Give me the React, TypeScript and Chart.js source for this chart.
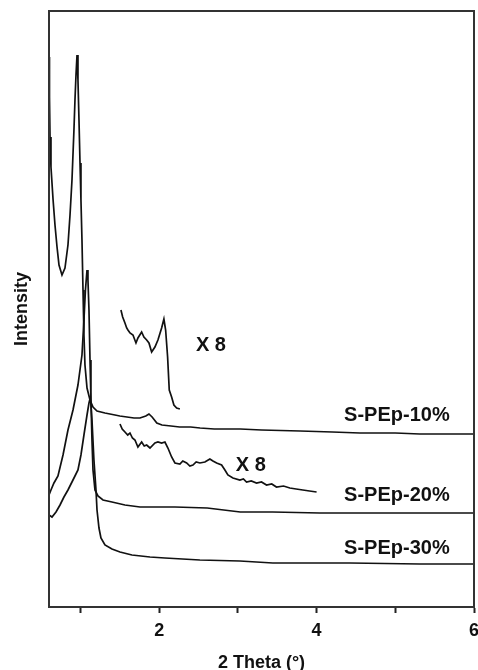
import React, { useEffect, useRef } from "react";
import { Chart, registerables } from "chart.js";

Chart.register(...registerables);

// 2 Theta (deg) and intensity (arbitrary units, offset traces)
const x10 = [0.6, 0.606, 0.613, 0.625, 0.651, 0.676, 0.702, 0.727, 0.765, 0.803, 0.841, 0.867, 0.892, 0.917, 0.93, 0.943, 0.956, 0.968, 0.981, 0.994, 1.006, 1.019, 1.032, 1.044, 1.057, 1.083, 1.121, 1.159, 1.21, 1.311, 1.438, 1.5, 1.59, 1.68, 1.756, 1.83, 1.87, 1.91, 1.97, 2.035, 2.15, 2.26, 2.4, 2.52, 2.7, 3.03, 3.3, 3.79, 4.2, 4.55, 5.0, 5.31, 5.7, 6.0];
const y10 = [550, 510, 470, 440, 408, 382, 360, 342, 332, 339, 362, 392, 427, 477, 507, 532, 552, 527, 487, 444, 407, 367, 317, 272, 242, 219, 207, 200, 196, 194, 192, 191, 190, 189, 189, 191, 193, 190, 184, 182, 181, 180, 180, 179, 178, 178, 177, 176, 175, 174, 174, 173, 173, 173];

const x20 = [0.6, 0.625, 0.663, 0.714, 0.778, 0.841, 0.905, 0.968, 1.019, 1.044, 1.063, 1.083, 1.095, 1.108, 1.121, 1.133, 1.146, 1.159, 1.184, 1.222, 1.286, 1.4, 1.565, 1.756, 2.01, 2.2, 2.61, 3.03, 3.44, 4.04, 5.06, 6.0];
const y20 = [112, 117, 124, 131, 152, 177, 197, 222, 252, 287, 317, 337, 327, 297, 247, 207, 167, 137, 117, 111, 107, 105, 102, 100, 100, 100, 99, 95, 95, 94, 94, 94];

const x30 = [0.6, 0.638, 0.689, 0.74, 0.79, 0.841, 0.892, 0.93, 0.968, 1.006, 1.044, 1.083, 1.108, 1.127, 1.146, 1.171, 1.197, 1.21, 1.235, 1.26, 1.311, 1.4, 1.502, 1.654, 1.883, 2.073, 2.517, 3.025, 3.444, 4.422, 5.311, 6.0];
const y30 = [92, 90, 95, 102, 110, 117, 125, 131, 137, 152, 172, 192, 204, 210, 187, 147, 117, 97, 79, 69, 62, 58, 55, 52, 50, 49, 47, 46, 44, 44, 43, 43];

// x8 magnified insets
const x10z = [1.514, 1.536, 1.565, 1.587, 1.603, 1.629, 1.667, 1.705, 1.73, 1.777, 1.806, 1.841, 1.87, 1.904, 1.946, 1.984, 2.031, 2.06, 2.082, 2.107, 2.128, 2.158, 2.187, 2.222, 2.263];
const y10z = [297, 290, 284, 279, 277, 274, 272, 264, 269, 275, 270, 267, 264, 255, 260, 267, 279, 288, 277, 250, 217, 210, 202, 199, 198];

const x20z = [1.502, 1.53, 1.565, 1.6, 1.629, 1.66, 1.692, 1.73, 1.777, 1.81, 1.841, 1.883, 1.946, 1.984, 2.031, 2.073, 2.111, 2.158, 2.2, 2.263, 2.3, 2.349, 2.39, 2.429, 2.47, 2.517, 2.581, 2.644, 2.683, 2.73, 2.793, 2.835, 2.873, 2.937, 3.025, 3.07, 3.11, 3.17, 3.237, 3.3, 3.364, 3.43, 3.49, 3.58, 3.66, 3.74, 3.825, 3.91, 4.0];
const y20z = [183, 178, 175, 172, 174, 169, 167, 160, 165, 161, 162, 159, 164, 165, 164, 165, 159, 150, 144, 143, 146, 144, 141, 142, 145, 144, 145, 148, 146, 144, 142, 137, 132, 129, 127, 128, 125, 126, 124, 125, 122, 123, 120, 121, 119, 118, 117, 116, 115];

const xTicks = [1, 2, 3, 4, 5, 6];

const labelTexts = ["S-PEp-10%", "S-PEp-20%", "S-PEp-30%", "X 8", "X 8"];
const labelX = [5.02, 5.02, 5.02, 2.657, 3.165];
const labelY = [192, 112, 59, 262, 142];

const FONT = "'Liberation Sans', Arial, Helvetica, sans-serif";

const pts = (xs: number[], ys: number[]) => xs.map((x, i) => ({ x, y: ys[i] }));

export default function App() {
  const ref = useRef<HTMLCanvasElement | null>(null);

  useEffect(() => {
    document.body.style.margin = "0";
    const canvas = ref.current;
    if (!canvas) return;

    const frame = {
      id: "frame",
      afterDatasetsDraw(chart: any) {
        const { ctx, chartArea } = chart;
        ctx.save();
        ctx.strokeStyle = "#333";
        ctx.lineWidth = 2;
        ctx.strokeRect(chartArea.left, chartArea.top, chartArea.right - chartArea.left, chartArea.bottom - chartArea.top);
        ctx.restore();
      },
      afterDraw(chart: any) {
        const { ctx } = chart;
        const xs = chart.scales.x;
        const ys = chart.scales.y;
        ctx.save();
        ctx.fillStyle = "#111";
        ctx.font = `bold 20px ${FONT}`;
        ctx.textAlign = "center";
        ctx.textBaseline = "middle";
        labelTexts.forEach((t, i) => {
          ctx.fillText(t, xs.getPixelForValue(labelX[i]), ys.getPixelForValue(labelY[i]));
        });
        ctx.restore();
      },
    };

    const line = (xs: number[], ys: number[]) => ({
      data: pts(xs, ys),
      borderColor: "#111",
      borderWidth: 1.7,
      pointRadius: 0,
      tension: 0,
      fill: false,
    });

    const chart = new Chart(canvas, {
      type: "line",
      data: {
        datasets: [line(x10, y10), line(x20, y20), line(x30, y30), line(x10z, y10z), line(x20z, y20z)],
      },
      options: {
        responsive: false,
        animation: false,
        layout: { padding: { top: 11, right: 4, left: 0, bottom: 0 } },
        plugins: { legend: { display: false }, tooltip: { enabled: false } },
        scales: {
          x: {
            type: "linear",
            min: 0.6,
            max: 6,
            afterBuildTicks: (scale: any) => {
              scale.ticks = xTicks.map((v) => ({ value: v }));
            },
            afterFit: (scale: any) => {
              scale.height = 63;
              scale.paddingRight = 0;
              scale.paddingLeft = 0;
            },
            ticks: {
              color: "#111",
              font: { family: FONT, size: 18, weight: "bold" },
              padding: 7,
              maxRotation: 0,
              autoSkip: false,
              callback: (v: any) => (Number(v) % 2 === 0 ? String(v) : ""),
            },
            grid: { drawOnChartArea: false, drawTicks: true, tickLength: 6, tickColor: "#222", tickWidth: 2 },
            border: { display: true, color: "#333", width: 2 },
            title: {
              display: true,
              text: "2 Theta (°)",
              color: "#111",
              font: { family: FONT, size: 18, weight: "bold" },
              padding: { top: 0, bottom: -4 },
            },
          },
          y: {
            type: "linear",
            min: 0,
            max: 596,
            afterFit: (scale: any) => {
              scale.width = 49;
            },
            ticks: { display: false },
            grid: { display: false },
            border: { display: true, color: "#333", width: 2 },
            title: {
              display: true,
              text: "Intensity",
              color: "#111",
              font: { family: FONT, size: 18, weight: "bold" },
              padding: { top: 11, bottom: 11 },
            },
          },
        },
      },
      plugins: [frame],
    } as any);

    return () => chart.destroy();
  }, []);

  return (
    <div style={{ position: "absolute", left: 0, top: 0, width: 478, height: 670, background: "#fff" }}>
      <canvas ref={ref} width={478} height={670} style={{ width: 478, height: 670, display: "block" }} />
    </div>
  );
}
